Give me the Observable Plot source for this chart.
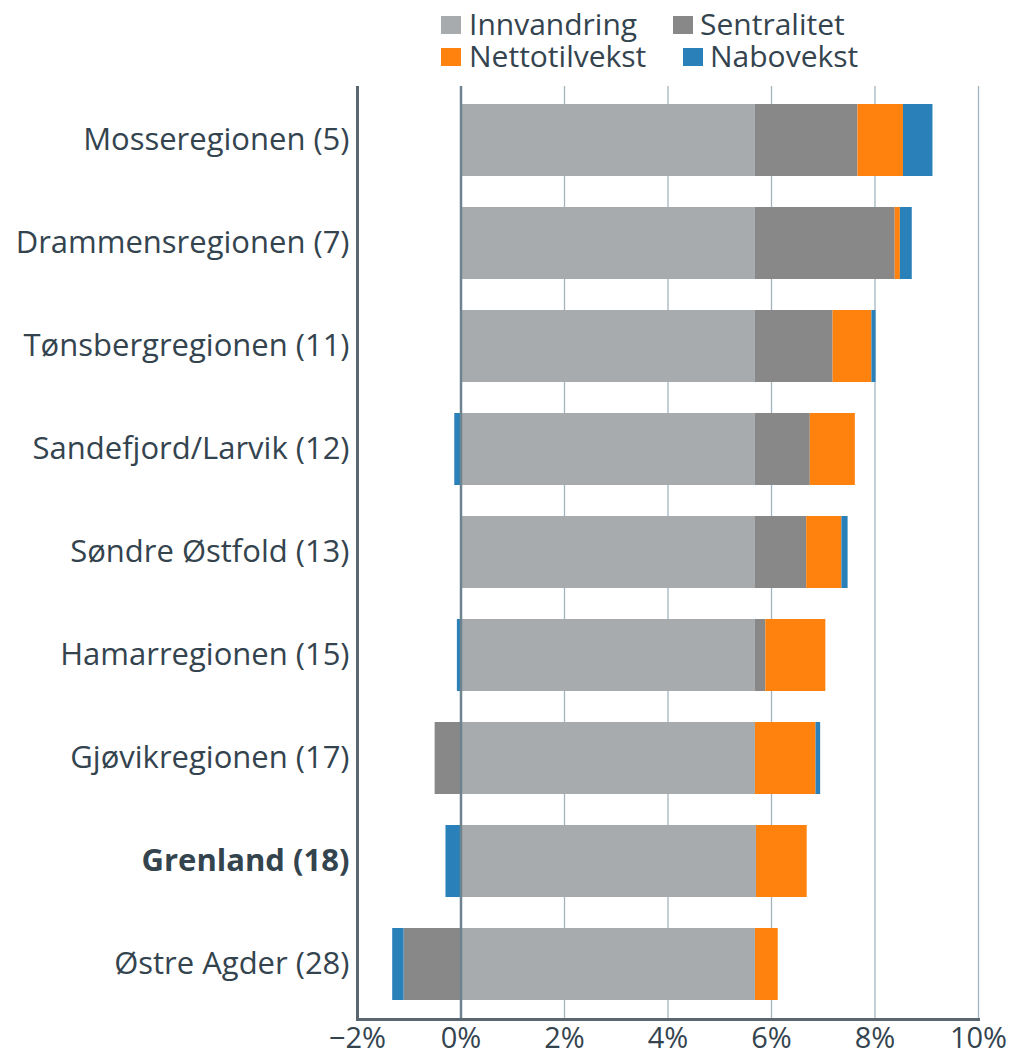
<!DOCTYPE html>
<html>
<head>
<meta charset="utf-8">
<script src="https://cdn.jsdelivr.net/npm/d3@7"></script>
<script src="https://cdn.jsdelivr.net/npm/@observablehq/plot@0.6"></script>
<style>
  body { margin: 0; background: #fff; font-family: "Open Sans", sans-serif; }
  #legend { position: relative; width: 1013px; height: 80px; }
  .lg { position: absolute; font-size: 30px; line-height: 30px; height: 30px; color: #34444f; white-space: nowrap; }
  .sw { position: absolute; width: 20px; height: 18px; }
</style>
</head>
<body>
<div id="legend"></div>
<div id="chart"></div>
<script>
const regions = ["Mosseregionen (5)", "Drammensregionen (7)", "Tønsbergregionen (11)", "Sandefjord/Larvik (12)", "Søndre Østfold (13)", "Hamarregionen (15)", "Gjøvikregionen (17)", "Grenland (18)", "Østre Agder (28)"];
const seriesNames = ["Innvandring", "Sentralitet", "Nettotilvekst", "Nabovekst"];
const seriesColors = ["#a7abae", "#888888", "#ff820f", "#2a80b9"];
const innvandring = [5.69, 5.69, 5.69, 5.69, 5.69, 5.69, 5.69, 5.70, 5.69];
const sentralitet = [1.98, 2.70, 1.50, 1.06, 0.99, 0.20, -0.50, 0.01, -1.10];
const nettotilvekst = [0.88, 0.10, 0.75, 0.87, 0.68, 1.16, 1.17, 0.98, 0.44];
const nabovekst = [0.57, 0.23, 0.08, -0.12, 0.12, -0.07, 0.09, -0.29, -0.22];
const xTicks = [-2, 0, 2, 4, 6, 8, 10];
const boldLabel = "Grenland (18)";

const seriesValues = [innvandring, sentralitet, nettotilvekst, nabovekst];
const data = [];
seriesNames.forEach((s, si) => {
  regions.forEach((r, ri) => data.push({region: r, series: s, value: seriesValues[si][ri]}));
});

// Legend (HTML above the SVG)
const legendItems = [
  {name: "Innvandring", sx: 441, sy: 16, tx: 469, ty: 9},
  {name: "Sentralitet", sx: 673, sy: 16, tx: 700, ty: 9},
  {name: "Nettotilvekst", sx: 441, sy: 48, tx: 469, ty: 41},
  {name: "Nabovekst", sx: 683, sy: 48, tx: 710, ty: 41}
];
const legend = document.getElementById("legend");
legendItems.forEach(it => {
  const sw = document.createElement("div");
  sw.className = "sw";
  sw.style.left = it.sx + "px"; sw.style.top = it.sy + "px";
  sw.style.background = seriesColors[seriesNames.indexOf(it.name)];
  legend.appendChild(sw);
  const t = document.createElement("div");
  t.className = "lg";
  t.style.left = it.tx + "px"; t.style.top = it.ty + "px";
  t.textContent = it.name;
  legend.appendChild(t);
});

const fmt = d => (d < 0 ? "\u2212" : "") + Math.abs(d) + "%";

const chart = Plot.plot({
  width: 1013,
  height: 977,
  marginTop: 6,
  marginBottom: 38,
  marginLeft: 357,
  marginRight: 35,
  style: {fontFamily: "Open Sans", fontSize: "30px", color: "#34444f", background: "#fff"},
  x: {domain: [-2, 10], ticks: xTicks, tickFormat: fmt, label: null},
  y: {domain: regions, paddingInner: 0.3, paddingOuter: 0.15, label: null},
  color: {domain: seriesNames, range: seriesColors},
  marks: [
    Plot.ruleX(xTicks.filter(d => d > 0), {stroke: "#a3b4bf", strokeWidth: 1.3}),
    Plot.barX(data, Plot.stackX({x: "value", y: "region", fill: "series", order: null})),
    Plot.ruleX([0], {stroke: "#6d8390", strokeWidth: 2.5}),
    Plot.ruleX([-2], {stroke: "#5a6670", strokeWidth: 3}),
    Plot.frame({anchor: "bottom", stroke: "#5a6670", strokeWidth: 3}),
    Plot.axisX({ticks: xTicks, tickFormat: fmt, tickSize: 0, tickPadding: 8, label: null, fontSize: 29}),
    Plot.axisY({tickSize: 0, tickPadding: 8, label: null, fontSize: 31})
  ]
});
d3.select(chart).selectAll("text").filter(function() { return this.textContent === boldLabel; }).attr("font-weight", "bold");
document.getElementById("chart").appendChild(chart);
</script>
</body>
</html>
